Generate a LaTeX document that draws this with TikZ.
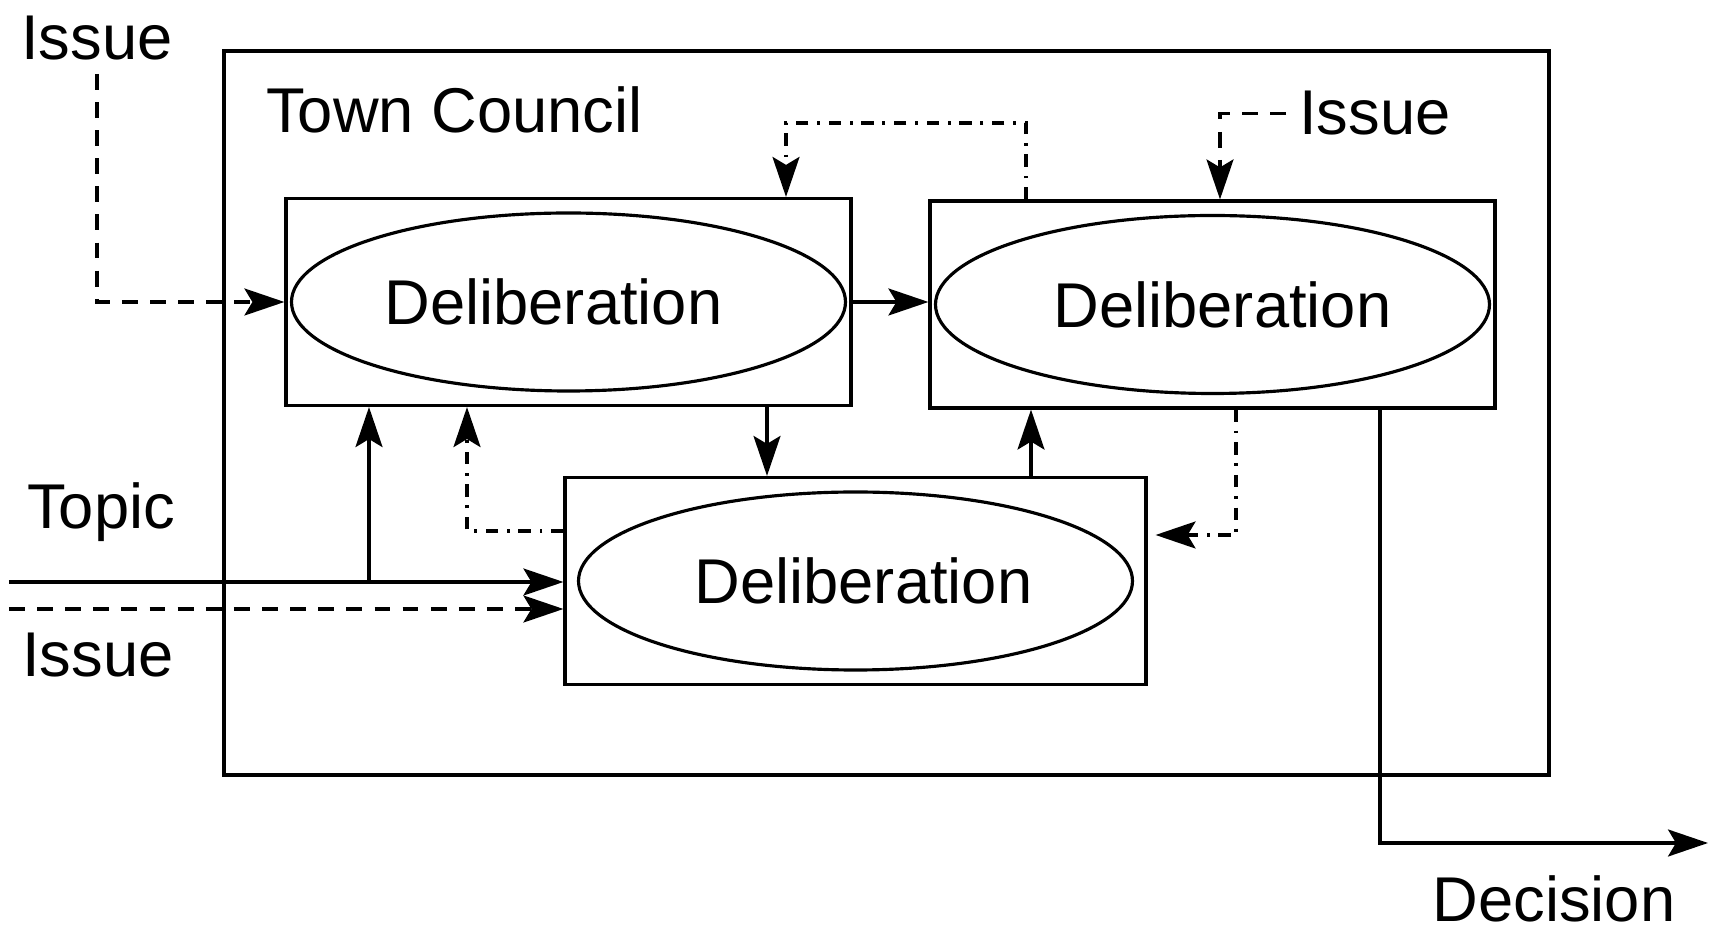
\documentclass[tikz,border=0pt]{standalone}
\usepackage{fontspec}
\setmainfont{Liberation Sans}
\usepackage{tikz}
\usetikzlibrary{arrows.meta, shapes.geometric}

\begin{document}
\begin{tikzpicture}[line width=0.9pt,
  every node/.style={font=\fontsize{18}{22}\selectfont},
  box/.style={draw, minimum height=2.07cm, inner sep=0pt},
  oval/.style={draw, ellipse, minimum width=5.54cm, minimum height=1.78cm, inner sep=0pt},
  arr/.style={-{Stealth[length=4mm, width=2.7mm, inset=0.8mm]}},
  dsh/.style={dash pattern=on 4.5pt off 3.5pt},
  dshdot/.style={dash pattern=on 3.5pt off 2.5pt on 0.8pt off 2.5pt}]
\useasboundingbox (0,0) rectangle (17.11,9.35);
\node[draw, minimum width=13.25cm, minimum height=7.24cm] (council) at (8.865,5.22) {};
\node[anchor=base west] (tc) at (2.53,8.02) {Town Council};
\foreach \i/\x/\y/\w/\dx in {1/5.685/6.33/5.65/-0.15, 2/12.125/6.305/5.65/0.1, 3/8.555/3.54/5.81/0.08}{
\node[box, minimum width=\w cm] (b\i) at (\x,\y) {};
\node[oval] (delib\i) at (\x,\y) {\hspace*{\dx cm}Deliberation\hspace*{-\dx cm}};
}
\node[anchor=base] (issueA) at (0.97,8.75) {Issue};
\node[anchor=base] (issueB) at (13.75,8.00) {Issue};
\node[anchor=base] (topic) at (1.01,4.06) {Topic};
\node[anchor=base] (issueC) at (0.98,2.58) {Issue};
\node[anchor=base] (decision) at (15.54,0.13) {Decision};
\coordinate (topicin) at (0.09,3.53);
\coordinate (issuein) at (0.09,3.26);
\coordinate (out) at (17.08,0.92);
\draw[dsh, arr] (issueA.south) |- (b1.west);
\draw[arr] (b1.east) -- (b1.east -| b2.west);
\draw[dshdot, arr] (10.26,0 |- b2.north) -- (10.26,8.12) -| (7.86,0 |- b1.north);
\draw[dsh, arr] (issueB.west) -| (12.20,0 |- b2.north);
\draw[arr] (7.67,0 |- b1.south) -- (7.67,0 |- b3.north);
\draw[arr] (10.31,0 |- b3.north) -- (10.31,0 |- b2.south);
\draw[dshdot, arr, shorten >=0.08cm] (12.36,0 |- b2.south) -- (12.36,4.00) -- (b3.east |- 0,4.00);
\draw[dshdot, arr] (b3.west |- 0,4.04) -| (4.67,0 |- b1.south);
\draw[arr] (topicin) -- (b3.west |- topicin);
\draw[arr] (3.69,0 |- topicin) -- (3.69,0 |- b1.south);
\draw[dsh, arr] (issuein) -- (b3.west |- issuein);
\draw[arr] (13.80,0 |- b2.south) |- (out);
\end{tikzpicture}
\end{document}
